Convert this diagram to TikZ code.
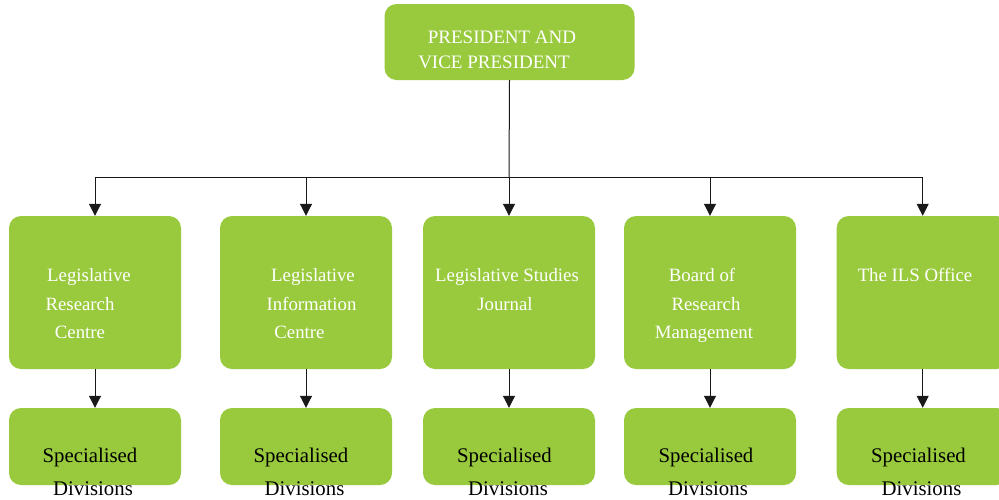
\documentclass[tikz,border=0pt]{standalone}
\usepackage{fontspec}
\setmainfont{Liberation Serif}
\usetikzlibrary{arrows.meta}
\definecolor{boxgreen}{HTML}{99CA3D}
\begin{document}
\begin{tikzpicture}[x=1pt,y=-1pt,
  box/.style={draw=none,fill=boxgreen,rounded corners=12pt,inner sep=0pt},
  topbox/.style={box,minimum width=250pt,minimum height=76pt},
  midbox/.style={box,minimum width=172pt,minimum height=153pt},
  botbox/.style={box,minimum width=172pt,minimum height=77pt},
  wl/.style={anchor=base,inner sep=0pt,text=white,font=\fontsize{18.8}{29}\selectfont},
  tl/.style={anchor=base,inner sep=0pt,text=white,font=\fontsize{19}{25}\selectfont},
  bl/.style={anchor=base,inner sep=0pt,text=black,font=\fontsize{20.8}{30}\selectfont},
  conn/.style={line width=1pt,draw=black!90},
  arr/.style={conn,-{Triangle[width=12pt,length=12pt]}}]
\useasboundingbox (0,0) rectangle (999,499);
% boxes
\node[topbox] (top) at (509.5,42) {};
\foreach \i/\x in {1/95,2/306,3/509,4/710,5/922.7}{
  \node[midbox] (m\i) at (\x,292.5) {};
  \node[botbox] (b\i) at (\x,446.5) {};
}
% connectors
\coordinate (bus) at (509,177);
\draw[conn] (top.south) -- (bus);
\draw[conn] (m1.north |- bus) -- (m5.north |- bus);
\foreach \i in {1,...,5}{
  \draw[arr] (m\i.north |- bus) -- (m\i.north);
  \draw[arr] (m\i.south) -- (b\i.north);
}
% top text
\node[tl] (t1) at (502,43.3) {PRESIDENT AND};
\node[tl] (t2) at (494,68.3) {VICE PRESIDENT};
% middle texts
\node[wl] (m1a) at (89,281) {Legislative};
\node[wl] (m1b) at (80,310) {Research};
\node[wl] (m1c) at (80,338) {Centre};
\node[wl] (m2a) at (313,281) {Legislative};
\node[wl] (m2b) at (311.5,310) {Information};
\node[wl] (m2c) at (299.5,338) {Centre};
\node[wl] (m3a) at (507,281) {Legislative Studies};
\node[wl] (m3b) at (505,310) {Journal};
\node[wl] (m4a) at (702,281) {Board of};
\node[wl] (m4b) at (706,310) {Research};
\node[wl] (m4c) at (704,338) {Management};
\node[wl] (m5a) at (915,281) {The ILS Office};
% bottom texts
\foreach \i/\xa/\xb in {1/90/93,2/301/304.5,3/504.5/508,4/706/708,5/918.5/921.5}{
  \node[bl] (b\i a) at (\xa,462) {Specialised};
  \node[bl] (b\i b) at (\xb,495.7) {Divisions};
}
\end{tikzpicture}
\end{document}
